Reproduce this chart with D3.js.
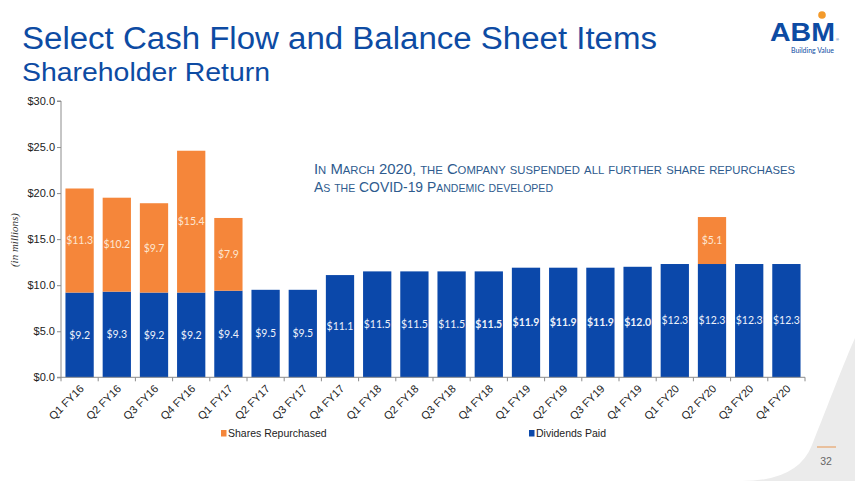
<!DOCTYPE html>
<html>
<head>
<meta charset="utf-8">
<script src="https://cdn.jsdelivr.net/npm/d3@7/dist/d3.min.js"></script>
<style>
  html, body { margin: 0; padding: 0; background: #fff; }
  svg { display: block; }
</style>
</head>
<body>
<svg id="chart" width="855" height="481"></svg>
<script>
const quarters = ["Q1 FY16","Q2 FY16","Q3 FY16","Q4 FY16","Q1 FY17","Q2 FY17","Q3 FY17","Q4 FY17",
  "Q1 FY18","Q2 FY18","Q3 FY18","Q4 FY18","Q1 FY19","Q2 FY19","Q3 FY19","Q4 FY19",
  "Q1 FY20","Q2 FY20","Q3 FY20","Q4 FY20"];
const dividendsPaid = [9.2,9.3,9.2,9.2,9.4,9.5,9.5,11.1,11.5,11.5,11.5,11.5,11.9,11.9,11.9,12.0,12.3,12.3,12.3,12.3];
const sharesRepurchased = [11.3,10.2,9.7,15.4,7.9,0,0,0,0,0,0,0,0,0,0,0,0,5.1,0,0];
const boldDividendLabels = ["Q4 FY18","Q1 FY19","Q2 FY19","Q3 FY19","Q4 FY19"];
const yTicks = [0,5,10,15,20,25,30];
const seriesNames = ["Dividends Paid","Shares Repurchased"];
const legendOrder = ["Shares Repurchased","Dividends Paid"];

const BLUE = "#0b48aa", ORANGE = "#f5863a";
const svg = d3.select("#chart");

// slide background shape (bottom-right)
svg.append("path")
  .attr("d", "M855,338 C845,360 828,405 812,445 Q798,481 742,481 L855,481 Z")
  .attr("fill", "#ebebeb");

// Title
svg.append("text").attr("x", 22).attr("y", 49)
  .attr("font-family", "Liberation Sans, Arial, sans-serif").attr("font-size", 31)
  .attr("fill", "#0d4ba3").attr("textLength", 635).attr("lengthAdjust", "spacingAndGlyphs")
  .text("Select Cash Flow and Balance Sheet Items");
svg.append("text").attr("x", 22).attr("y", 81)
  .attr("font-family", "Liberation Sans, Arial, sans-serif").attr("font-size", 25)
  .attr("fill", "#0d4ba3").attr("textLength", 248).attr("lengthAdjust", "spacingAndGlyphs")
  .text("Shareholder Return");

// Logo
const logo = svg.append("g");
logo.append("text").attr("x", 770).attr("y", 41)
  .attr("font-family", "Liberation Sans, Arial, sans-serif").attr("font-weight", "bold").attr("font-size", 25)
  .attr("fill", "#0d4ba3").attr("textLength", 65).attr("lengthAdjust", "spacingAndGlyphs").text("ABM");
logo.append("circle").attr("cx", 822).attr("cy", 15).attr("r", 3.8).attr("fill", "#f39a2b");
logo.append("text").attr("x", 836).attr("y", 41).attr("font-family", "Liberation Sans, Arial, sans-serif")
  .attr("font-size", 4).attr("fill", "#0d4ba3").text("®");
logo.append("text").attr("x", 791).attr("y", 53)
  .attr("font-family", "Lato, Open Sans, sans-serif").attr("font-size", 7)
  .attr("fill", "#0d4ba3").attr("textLength", 43).attr("lengthAdjust", "spacingAndGlyphs").text("Building Value");

// Chart scales
const x0 = 61, x1 = 805, yTop = 101, yBot = 377.3;
const x = d3.scaleBand().domain(quarters).range([x0, x1]).paddingInner(0.24).paddingOuter(0.12);
const y = d3.scaleLinear().domain([0, 30]).range([yBot, yTop]);

const table = quarters.map((q, i) => ({q, "Dividends Paid": dividendsPaid[i], "Shares Repurchased": sharesRepurchased[i]}));
const stacked = d3.stack().keys(seriesNames)(table);
const color = d3.scaleOrdinal().domain(seriesNames).range([BLUE, ORANGE]);

const layers = svg.append("g").selectAll("g").data(stacked).join("g").attr("fill", d => color(d.key));
layers.selectAll("rect").data(d => d.filter(p => p[1] - p[0] > 0)).join("rect")
  .attr("x", d => x(d.data.q)).attr("width", x.bandwidth())
  .attr("y", d => y(d[1])).attr("height", d => y(d[0]) - y(d[1]));

// bar labels
stacked.forEach(layer => {
  svg.append("g").selectAll("text").data(layer.filter(p => p[1] - p[0] > 0)).join("text")
    .attr("x", d => x(d.data.q) + x.bandwidth() / 2)
    .attr("y", d => y((d[0] + d[1]) / 2) + 3.8)
    .attr("text-anchor", "middle")
    .attr("font-family", "Lato, Open Sans, sans-serif")
    .attr("font-size", 10.5)
    .attr("font-weight", d => layer.key === "Dividends Paid" && boldDividendLabels.includes(d.data.q) ? "bold" : "normal")
    .attr("fill", layer.key === "Dividends Paid" ? "#eef2fa" : "#fde6d2")
    .text(d => "$" + (d[1] - d[0]).toFixed(1));
});

// Y axis
const yAxis = svg.append("g").attr("transform", `translate(${x0},0)`)
  .call(d3.axisLeft(y).tickValues(yTicks).tickSize(4).tickFormat(v => "$" + v.toFixed(1)));
yAxis.select(".domain").attr("stroke", "#8c8c8c").attr("d", `M-4,${yTop}H0V${yBot}H-4`);
yAxis.selectAll(".tick line").attr("stroke", "#8c8c8c");
yAxis.selectAll(".tick text").attr("font-family", "Liberation Sans, Arial, sans-serif")
  .attr("font-size", 11).attr("fill", "#222").attr("x", -6);

// X axis
const xAxis = svg.append("g").attr("transform", `translate(0,${yBot})`);
xAxis.append("line").attr("x1", x0).attr("x2", x1).attr("y1", 0).attr("y2", 0).attr("stroke", "#8c8c8c");
const boundaries = quarters.map(q => x(q) - x.step() * x.paddingInner() / 2).concat([x1]);
xAxis.selectAll("line.tk").data(boundaries).join("line").attr("class", "tk")
  .attr("x1", d => d).attr("x2", d => d).attr("y1", 0).attr("y2", 4).attr("stroke", "#8c8c8c");
xAxis.selectAll("text").data(quarters).join("text")
  .attr("transform", q => `translate(${x(q) + x.bandwidth() / 2 + 5},${12}) rotate(-45)`)
  .attr("text-anchor", "end")
  .attr("font-family", "Liberation Sans, Arial, sans-serif").attr("font-size", 11).attr("fill", "#222")
  .text(q => q);

// Y axis title
svg.append("text").attr("transform", "translate(18,240) rotate(-90)")
  .attr("text-anchor", "middle").attr("font-family", "Liberation Serif, Times New Roman, serif")
  .attr("font-style", "italic").attr("font-size", 11).attr("fill", "#333").text("(in millions)");

// Legend
const legendX = {"Shares Repurchased": 221, "Dividends Paid": 529};
const lg = svg.append("g").selectAll("g").data(legendOrder).join("g")
  .attr("transform", d => `translate(${legendX[d]},437)`);
lg.append("rect").attr("x", 0).attr("y", -7).attr("width", 5.5).attr("height", 6.5).attr("fill", d => color(d));
lg.append("text").attr("x", 7).attr("y", 0)
  .attr("font-family", "Liberation Sans, Arial, sans-serif").attr("font-size", 10.5).attr("fill", "#222")
  .text(d => d);

// Annotation (small caps)
const note = svg.append("g").attr("font-family", "Liberation Sans, Arial, sans-serif").attr("fill", "#2e5b8e");
[["In March 2020, the Company suspended all further share repurchases", 174, 481],
 ["As the COVID-19 Pandemic developed", 192, 239]].forEach(([t, yy, w]) => {
  const txt = note.append("text").attr("x", 314).attr("y", yy)
    .attr("textLength", w).attr("lengthAdjust", "spacingAndGlyphs");
  const parts = t.match(/[a-z]+|[^a-z]+/g);
  parts.forEach(p => {
    const lower = /^[a-z]+$/.test(p);
    txt.append("tspan").attr("font-size", lower ? 11 : 14.5).text(p.toUpperCase());
  });
});

// Page number
svg.append("line").attr("x1", 817).attr("x2", 836).attr("y1", 447).attr("y2", 447)
  .attr("stroke", "#e8a36a").attr("stroke-width", 1.2);
svg.append("text").attr("x", 826).attr("y", 465).attr("text-anchor", "middle")
  .attr("font-family", "Liberation Sans, Arial, sans-serif").attr("font-size", 10.5).attr("fill", "#666").text("32");
</script>
</body>
</html>
